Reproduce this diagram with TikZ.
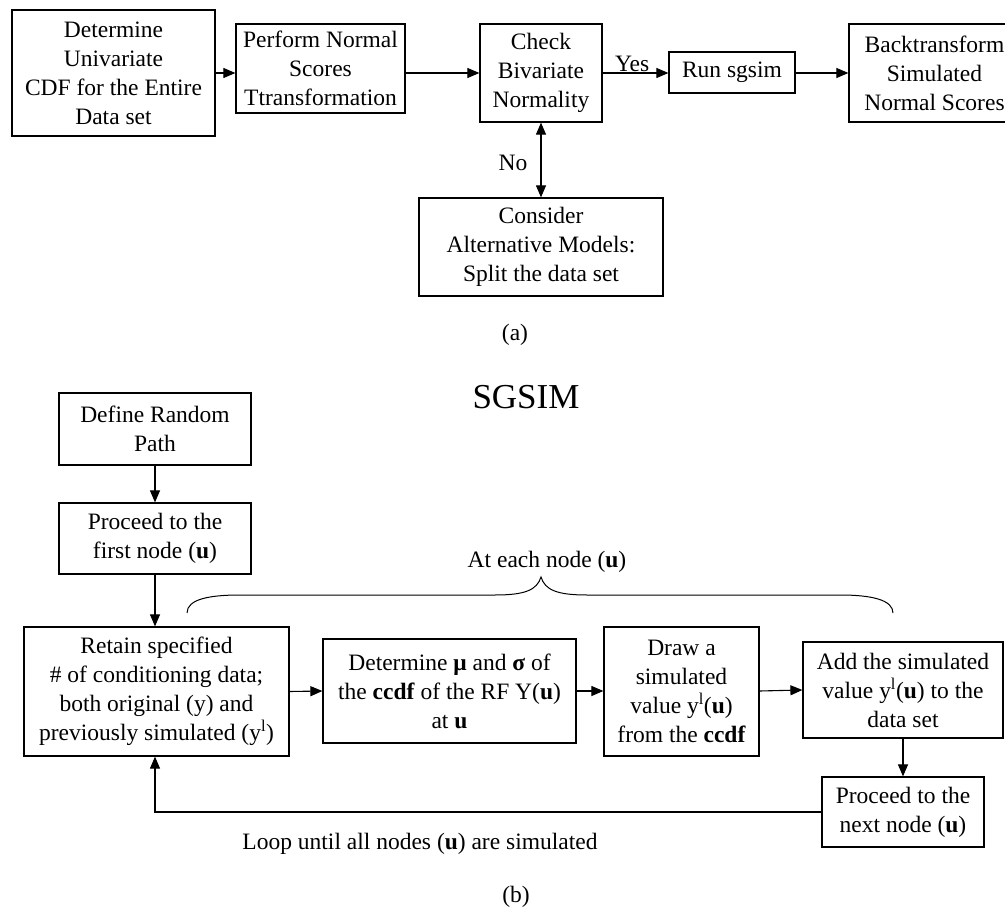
\documentclass[tikz,border=0pt]{standalone}
\usepackage{fontspec}
\setmainfont{Liberation Serif}
\usetikzlibrary{arrows.meta}
\begin{document}
\begin{tikzpicture}[x=1pt,y=-1pt,
  txt/.style={font=\fontsize{23.5}{29}\selectfont},
  box/.style={draw, line width=1.2pt, inner sep=0pt, align=center, txt},
  flow/.style={line width=1.1pt, -{Triangle[length=12pt,width=10pt]}},
  both/.style={line width=1.1pt, {Triangle[length=12pt,width=10pt]}-{Triangle[length=12pt,width=10pt]}}]
\useasboundingbox (0,0) rectangle (1005,915);
\clip (0,0) rectangle (1005,915);
\fill[white] (0,0) rectangle (1005,915);

% (a) preparation of the data
\node[box, minimum width=203pt, minimum height=126pt] (cdf) at (113.5,73)
  {Determine\\Univariate\\CDF for the Entire\\Data set};
\node[box, minimum width=169pt, minimum height=89pt] (nscore) at (320.5,68.5)
  {Perform Normal\\Scores\\Ttransformation};
\node[box, minimum width=122pt, minimum height=98pt] (check) at (541,73)
  {Check\\Bivariate\\Normality};
\node[box, minimum width=126pt, minimum height=41pt] (run) at (732,72.5)
  {Run sgsim};
\node[box, minimum width=171pt, minimum height=98pt] (back) at (934.5,73)
  {Backtransform\\Simulated\\Normal Scores};
\node[box, minimum width=244pt, minimum height=98pt] (alt) at (541,247)
  {Consider\\Alternative Models:\\Split the data set};

\draw[flow] (cdf.east) -- (cdf.east -| nscore.west);
\draw[flow] (cdf.east -| nscore.east) -- (check.west);
\draw[flow] (check.east) -- node[txt, above, inner sep=1pt, pos=0.45] (yes) {Yes} (check.east -| run.west);
\draw[flow] (check.east -| run.east) -- (back.west);
\draw[both] (check.south) -- node[txt, left, inner sep=0pt, xshift=-13pt, yshift=-3pt] (no) {No} (check.south |- alt.north);

\node[txt] (capa) at (515,335) {(a)};

% (b) sequential Gaussian simulation
\node[font=\fontsize{35}{40}\selectfont] (title) at (526,397) {SGSIM};

\node[box, minimum width=192pt, minimum height=72pt] (path) at (155,429)
  {Define Random\\Path};
\node[box, minimum width=192pt, minimum height=71pt] (first) at (155,538.5)
  {Proceed to the\\first node (\textbf{u})};
\node[box, minimum width=265pt, minimum height=129pt] (retain) at (156.5,691.5)
  {Retain specified\\\# of conditioning data;\\both original (y) and\\previously simulated (y\textsuperscript{l})};
\node[box, minimum width=253pt, minimum height=104pt] (ccdf) at (449.5,691)
  {Determine \textbf{μ} and \textbf{σ} of\\the \textbf{ccdf} of the RF Y(\textbf{u})\\at \textbf{u}};
\node[box, minimum width=155pt, minimum height=129pt] (draw) at (681.5,691.5)
  {Draw a\\simulated\\value y\textsuperscript{l}(\textbf{u})\\from the \textbf{ccdf}};
\node[box, minimum width=200pt, minimum height=96pt] (add) at (903,690)
  {Add the simulated\\value y\textsuperscript{l}(\textbf{u}) to the\\data set};
\node[box, minimum width=162pt, minimum height=70pt] (next) at (903,812)
  {Proceed to the\\next node (\textbf{u})};

\draw[flow] (path) -- (first);
\draw[flow] (first) -- (first.south |- retain.north);
\draw[flow] (retain.east) -- (ccdf.west);
\draw[flow] (ccdf.east) -- (ccdf.east -| draw.west);
\draw[flow] (ccdf.east -| draw.east) -- (add.west);
\draw[flow] (add) -- (next);
\draw[flow] (next.west) -- (next.west -| first.south) -- (first.south |- retain.south);

% brace over the steps repeated at every node
\draw[line width=1pt] (187,613) .. controls (187,599) and (210,595) .. (240,595)
  -- (495,595) .. controls (525,595) and (537,590) .. (541,577)
  .. controls (545,590) and (557,595) .. (587,595)
  -- (840,595) .. controls (872,595) and (893,600) .. (893,613);
\node[txt] (each) at (547,562) {At each node (\textbf{u})};

\node[txt] (loop) at (420,844) {Loop until all nodes (\textbf{u}) are simulated};
\node[txt] (capb) at (516,897) {(b)};
\end{tikzpicture}
\end{document}
